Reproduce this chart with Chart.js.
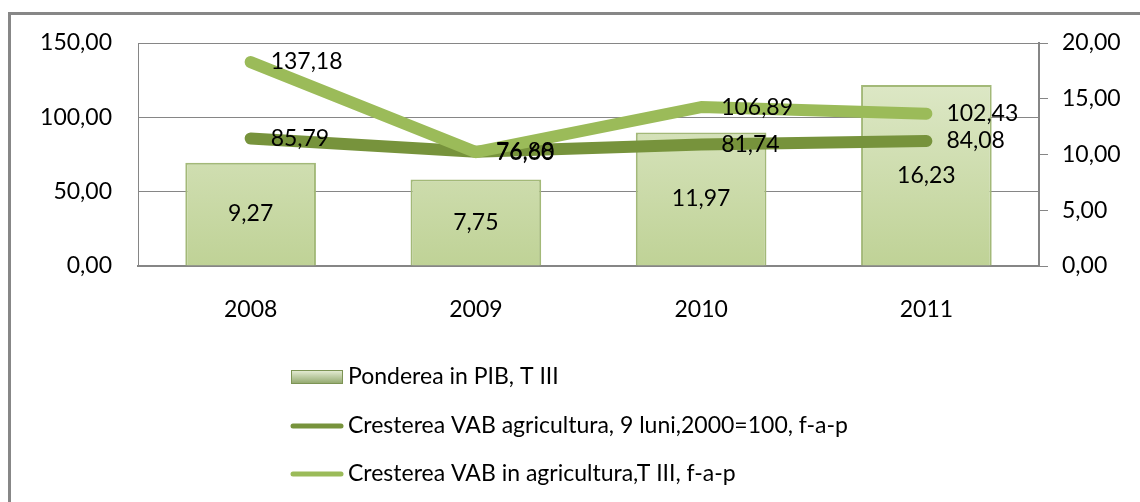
<!DOCTYPE html>
<html>
<head>
<meta charset="utf-8">
<script src="https://cdn.jsdelivr.net/npm/chart.js@4"></script>
<style>
  html, body { margin: 0; padding: 0; background: #fff; overflow: hidden; }
  #wrap { position: relative; width: 1140px; height: 502px; }
  #frame { position: absolute; left: 8px; top: 12px; width: 1200px; height: 600px;
           border: 3px solid #878787; box-sizing: border-box; }
  canvas { position: absolute; left: 0; top: 0; }
</style>
</head>
<body>
<div id="wrap">
  <div id="frame"></div>
  <canvas id="chart" width="1140" height="502"></canvas>
</div>
<script>
const years = ['2008', '2009', '2010', '2011'];
const pondere = [9.27, 7.75, 11.97, 16.23];
const vab9luni = [85.79, 76.88, 81.74, 84.08];
const vabT3 = [137.18, 76.60, 106.89, 102.43];
const leftTicks = [0, 50, 100, 150];
const rightTicks = [0, 5, 10, 15, 20];

const FONT = 'Lato, "Liberation Sans", sans-serif';
const fmt = v => v.toFixed(2).replace('.', ',');

const ctx = document.getElementById('chart');

function barGradient(context) {
    const chart = context.chart;
    const area = chart.chartArea;
    if (!area) return '#c3d69b';
    const g = chart.ctx.createLinearGradient(0, area.top, 0, area.bottom);
    g.addColorStop(0, '#e3ecd0');
    g.addColorStop(1, '#bfd296');
    return g;
}

// value labels: inside the bars, to the right of the line points
const valueLabels = {
    id: 'valueLabels',
    afterDatasetsDraw(chart) {
        const c = chart.ctx;
        c.save();
        c.font = '23px ' + FONT;
        c.fillStyle = '#000';
        chart.data.datasets.forEach((ds, i) => {
            const meta = chart.getDatasetMeta(i);
            meta.data.forEach((el, j) => {
                const txt = fmt(ds.data[j]);
                if (ds.type === 'bar') {
                    c.textAlign = 'center';
                    c.textBaseline = 'middle';
                    c.fillText(txt, el.x, (el.y + el.base) / 2);
                } else {
                    c.textAlign = 'left';
                    c.textBaseline = 'middle';
                    c.fillText(txt, el.x + 20, el.y);
                }
            });
        });
        c.restore();
    }
};

// vertical legend below the axis, bar first then the two lines
const sideLegend = {
    id: 'sideLegend',
    afterDraw(chart) {
        const c = chart.ctx;
        const x0 = 291, rows = [377, 426, 474];
        const sets = chart.data.datasets;
        const list = [sets[2], sets[0], sets[1]];
        c.save();
        c.font = '23px ' + FONT;
        c.textBaseline = 'middle';
        c.textAlign = 'left';
        list.forEach((ds, i) => {
            const y = rows[i];
            if (ds.type === 'bar') {
                const g = c.createLinearGradient(0, y - 7, 0, y + 7);
                g.addColorStop(0, '#e8efd8');
                g.addColorStop(1, '#8fa66a');
                c.fillStyle = g;
                c.fillRect(x0, y - 7, 52, 14);
                c.strokeStyle = '#7d9455';
                c.lineWidth = 1;
                c.strokeRect(x0 + 0.5, y - 6.5, 51, 13);
            } else {
                c.strokeStyle = ds.borderColor;
                c.lineWidth = 5;
                c.lineCap = 'round';
                c.beginPath();
                c.moveTo(x0 + 2, y);
                c.lineTo(x0 + 50, y);
                c.stroke();
            }
            c.fillStyle = '#000';
            c.fillText(ds.label, x0 + 57, y);
        });
        c.restore();
    }
};

new Chart(ctx, {
    data: {
        labels: years,
        datasets: [{
            type: 'line',
            label: 'Cresterea VAB agricultura, 9 luni,2000=100, f-a-p',
            data: vab9luni,
            yAxisID: 'y',
            borderColor: '#77933c',
            borderWidth: 12,
            borderCapStyle: 'round',
            borderJoinStyle: 'round',
            pointRadius: 0,
            tension: 0,
            order: 2
        }, {
            type: 'line',
            label: 'Cresterea VAB in agricultura,T III, f-a-p',
            data: vabT3,
            yAxisID: 'y',
            borderColor: '#9bbb59',
            borderWidth: 12,
            borderCapStyle: 'round',
            borderJoinStyle: 'round',
            pointRadius: 0,
            tension: 0,
            order: 1
        }, {
            type: 'bar',
            label: 'Ponderea in PIB, T III',
            data: pondere,
            yAxisID: 'y1',
            backgroundColor: barGradient,
            borderColor: '#a3b978',
            borderWidth: 2,
            categoryPercentage: 1,
            barPercentage: 0.58,
            order: 3
        }]
    },
    options: {
        responsive: false,
        animation: false,
        layout: { padding: { top: 43, left: 0, right: 0, bottom: 0 } },
        plugins: {
            legend: { display: false },
            tooltip: { enabled: false }
        },
        scales: {
            x: {
                grid: { display: false, drawTicks: false },
                border: { color: '#868686', width: 2 },
                ticks: { color: '#000', font: { family: FONT, size: 23 }, padding: 30 },
                afterFit(scale) { scale.height = 236; }
            },
            y: {
                position: 'left',
                min: 0, max: 150,
                afterBuildTicks(scale) { scale.ticks = leftTicks.map(v => ({ value: v })); },
                grid: { color: '#868686', drawTicks: false },
                border: { color: '#868686' },
                ticks: { color: '#000', font: { family: FONT, size: 23 }, padding: 26, callback: v => fmt(v) },
                afterFit(scale) { scale.width = 138; }
            },
            y1: {
                position: 'right',
                min: 0, max: 20,
                afterBuildTicks(scale) { scale.ticks = rightTicks.map(v => ({ value: v })); },
                grid: { drawOnChartArea: false, color: '#868686', tickLength: 9 },
                border: { color: '#868686', width: 2 },
                ticks: { color: '#000', font: { family: FONT, size: 23 }, padding: 14, callback: v => fmt(v) },
                afterFit(scale) { scale.width = 101; }
            }
        }
    },
    plugins: [valueLabels, sideLegend]
});
</script>
</body>
</html>
